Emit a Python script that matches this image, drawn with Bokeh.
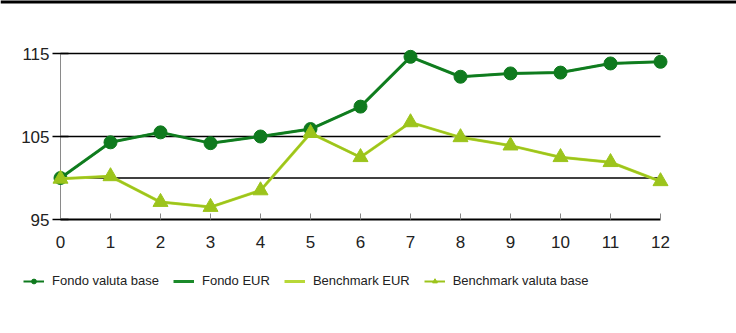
from bokeh.plotting import figure
from bokeh.models import Range1d, Legend, LegendItem, ColumnDataSource, Span
from bokeh.core.properties import value
from bokeh.embed import file_html
from bokeh.resources import INLINE
import math

# ---- data ----
months = [0, 1, 2, 3, 4, 5, 6, 7, 8, 9, 10, 11, 12]
x_tick_labels = ["0", "1", "2", "3", "4", "5", "6", "7", "8", "9", "10", "11", "12"]
fondo_valuta_base = [100.0, 104.3, 105.5, 104.2, 105.0, 105.9, 108.6, 114.6, 112.2, 112.6, 112.7, 113.8, 114.0]
fondo_eur = [100.0, 104.3, 105.5, 104.2, 105.0, 105.9, 108.6, 114.6, 112.2, 112.6, 112.7, 113.8, 114.0]
benchmark_eur = [99.9, 100.2, 97.1, 96.5, 98.5, 105.4, 102.5, 106.7, 104.9, 103.9, 102.5, 101.9, 99.6]
benchmark_valuta_base = [99.9, 100.2, 97.1, 96.5, 98.5, 105.4, 102.5, 106.7, 104.9, 103.9, 102.5, 101.9, 99.6]
y_ticks = [95, 105, 115]
y_tick_labels = ["95", "105", "115"]
grid_values = [100, 105, 115]
series_names = ["Fondo valuta base", "Fondo EUR", "Benchmark EUR", "Benchmark valuta base"]

DARK = "#0f7a1e"
DARK2 = "#1b8a2a"
LIGHT = "#b8d838"
OLIVE = "#9cc41c"
FONT = "Liberation Sans"

W, H = 736, 330
# layout: plot area spans the whole canvas; axes are drawn as glyphs
X_START, X_END = -1.2, 13.52
Y_TOP, Y_BOTTOM = 121.386, 81.627

p = figure(width=W, height=H, output_backend="svg", toolbar_location=None,
           x_range=Range1d(X_START, X_END), y_range=Range1d(Y_BOTTOM, Y_TOP),
           min_border=0)
p.outline_line_color = None
p.xgrid.visible = False
p.ygrid.visible = False
p.xaxis.visible = False
p.yaxis.visible = False
p.background_fill_color = "white"
p.border_fill_color = "white"

# top black rule of the page
p.add_layout(Span(location=Y_TOP, dimension="width", line_color="black", line_width=6))

x0, x1 = months[0], months[-1]
# horizontal grid lines
p.segment(x0=[x0] * len(grid_values), x1=[x1] * len(grid_values), y0=grid_values, y1=grid_values,
          line_color="black", line_width=1.5)
# vertical y-axis line
p.segment(x0=[x0], x1=[x0], y0=[y_ticks[0]], y1=[y_ticks[-1]], line_color="#8a8a8a", line_width=1)
# x-axis line
p.segment(x0=[x0], x1=[x1], y0=[y_ticks[0]], y1=[y_ticks[0]], line_color="black", line_width=2)
# x ticks (pointing up) and labels
p.ray(x=months, y=[y_ticks[0]] * len(months), length=6, length_units="screen",
      angle=math.pi / 2, line_color="#888888", line_width=1)
p.text(x=months, y=[y_ticks[0]] * len(months), text=x_tick_labels, y_offset=22,
       text_align="center", text_baseline="middle", text_font=value(FONT),
       text_font_size="17px", text_color="#222222")
# y ticks and labels
p.scatter(x=[x0] * len(y_ticks), y=y_ticks, marker="dash", size=16, line_color="black", line_width=1.5)
p.text(x=[x0] * len(y_ticks), y=y_ticks, text=y_tick_labels, x_offset=-11,
       text_align="right", text_baseline="middle", text_font=value(FONT),
       text_font_size="17px", text_color="#222222")

src = ColumnDataSource(dict(x=months, fvb=fondo_valuta_base, feur=fondo_eur,
                            beur=benchmark_eur, bvb=benchmark_valuta_base))

r_feur = p.line("x", "feur", source=src, line_color=DARK2, line_width=3)
r_fvb_l = p.line("x", "fvb", source=src, line_color=DARK, line_width=2)
r_fvb_m = p.scatter("x", "fvb", source=src, marker="circle", size=13, fill_color=DARK, line_color=DARK)
r_beur = p.line("x", "beur", source=src, line_color=LIGHT, line_width=3)
r_bvb_l = p.line("x", "bvb", source=src, line_color=OLIVE, line_width=2)
r_bvb_m = p.scatter("x", "bvb", source=src, marker="triangle", size=15, fill_color=OLIVE, line_color=OLIVE)

legend = Legend(items=[
    LegendItem(label=series_names[0], renderers=[r_fvb_l, r_fvb_m]),
    LegendItem(label=series_names[1], renderers=[r_feur]),
    LegendItem(label=series_names[2], renderers=[r_beur]),
    LegendItem(label=series_names[3], renderers=[r_bvb_l, r_bvb_m]),
], location=(23, 42), orientation="horizontal")
legend.padding = 0
legend.margin = 0
legend.spacing = 14
legend.glyph_width = 21
legend.glyph_height = 12
legend.label_standoff = 8
legend.label_text_font = FONT
legend.label_text_font_size = "13px"
legend.label_text_color = "#222222"
legend.border_line_color = None
legend.background_fill_alpha = 0
p.add_layout(legend, "center")

open("out.html", "w").write(file_html(p, INLINE))
